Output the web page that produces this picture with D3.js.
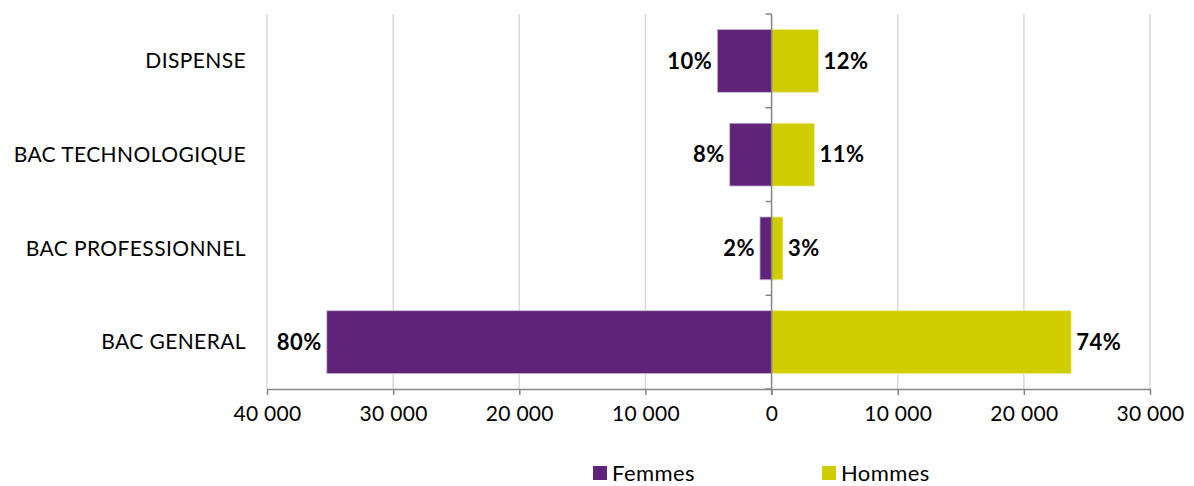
<!DOCTYPE html>
<html>
<head>
<meta charset="utf-8">
<script src="https://cdn.jsdelivr.net/npm/d3@7"></script>
<style>
  body { margin: 0; background: #fff; }
  svg text { font-family: Lato, "Noto Sans", sans-serif; fill: #000; }
</style>
</head>
<body>
<svg id="chart"></svg>
<script>
var categories = ["DISPENSE", "BAC TECHNOLOGIQUE", "BAC PROFESSIONNEL", "BAC GENERAL"];
var femmes = [4300, 3320, 920, 35260];
var hommes = [3720, 3400, 900, 23750];
var femmesPct = ["10%", "8%", "2%", "80%"];
var hommesPct = ["12%", "11%", "3%", "74%"];
var xTicks = [-40000, -30000, -20000, -10000, 0, 10000, 20000, 30000];
var series = ["Femmes", "Hommes"];
var colors = { Femmes: "#5f2479", Hommes: "#cfcc00" };

var width = 1194, height = 486;
var margins = { top: 14, bottom: 97, left: 267, right: 44 };

var svg = d3.select("#chart").attr("width", width).attr("height", height);

var xScale = d3.scaleLinear()
  .domain([-40000, 30000])
  .range([margins.left, width - margins.right]);

var yScale = d3.scaleBand()
  .domain(categories)
  .range([margins.top, height - margins.bottom])
  .paddingInner(0.33)
  .paddingOuter(0.165);

var plotTop = margins.top, plotBottom = height - margins.bottom;

// grid lines
svg.append("g").selectAll("line")
  .data(xTicks.filter(function(d){ return d !== 0; }))
  .enter().append("line")
  .attr("x1", function(d){ return xScale(d); })
  .attr("x2", function(d){ return xScale(d); })
  .attr("y1", plotTop).attr("y2", plotBottom)
  .attr("stroke", "#d9d9d9").attr("stroke-width", 1.5);

// bars
var rows = categories.map(function(c, i){
  return { cat: c, f: femmes[i], h: hommes[i], fp: femmesPct[i], hp: hommesPct[i] };
});

svg.append("g").selectAll("rect")
  .data(rows).enter().append("rect")
  .attr("x", function(d){ return xScale(-d.f); })
  .attr("width", function(d){ return xScale(0) - xScale(-d.f); })
  .attr("y", function(d){ return yScale(d.cat); })
  .attr("height", yScale.bandwidth())
  .attr("fill", colors.Femmes)
  .attr("stroke", "#c9b8d3").attr("stroke-width", 0.8);

svg.append("g").selectAll("rect")
  .data(rows).enter().append("rect")
  .attr("x", xScale(0))
  .attr("width", function(d){ return xScale(d.h) - xScale(0); })
  .attr("y", function(d){ return yScale(d.cat); })
  .attr("height", yScale.bandwidth())
  .attr("fill", colors.Hommes)
  .attr("stroke", "#eeed9c").attr("stroke-width", 0.8);

// data labels
svg.append("g").selectAll("text")
  .data(rows).enter().append("text")
  .attr("x", function(d){ return xScale(-d.f) - 5; })
  .attr("y", function(d){ return yScale(d.cat) + yScale.bandwidth() / 2; })
  .attr("dy", "0.35em")
  .attr("text-anchor", "end")
  .style("font-size", "22px").style("font-weight", "bold").style("letter-spacing", "0.5px")
  .text(function(d){ return d.fp; });

svg.append("g").selectAll("text")
  .data(rows).enter().append("text")
  .attr("x", function(d){ return xScale(d.h) + 5; })
  .attr("y", function(d){ return yScale(d.cat) + yScale.bandwidth() / 2; })
  .attr("dy", "0.35em")
  .attr("text-anchor", "start")
  .style("font-size", "22px").style("font-weight", "bold").style("letter-spacing", "0.5px")
  .text(function(d){ return d.hp; });

// bottom axis
var fmt = function(d){ return d3.format(",")(Math.abs(d)).replace(/,/g, " "); };
var xAxis = d3.axisBottom(xScale).tickValues(xTicks).tickSize(6).tickSizeOuter(0).tickPadding(11).tickFormat(fmt);
var gx = svg.append("g").attr("transform", "translate(0," + plotBottom + ")").call(xAxis);
gx.select(".domain").attr("stroke", "#868686").attr("stroke-width", 1.5);
gx.selectAll(".tick line").attr("stroke", "#868686").attr("stroke-width", 1.5);
gx.selectAll(".tick text").style("font-size", "21px").style("letter-spacing", "0.3px")
  .style("font-family", "Lato, 'Noto Sans', sans-serif").attr("fill", "#000");

// zero axis with band ticks
var boundaries = [plotTop].concat(categories.map(function(c){ return yScale(c) + yScale.bandwidth() + yScale.step() * yScale.paddingInner() / 2; }));
boundaries = boundaries.slice(0, categories.length).concat([plotBottom]);
var z = svg.append("g");
z.append("line")
  .attr("x1", xScale(0)).attr("x2", xScale(0))
  .attr("y1", plotTop).attr("y2", plotBottom + 6)
  .attr("stroke", "#868686").attr("stroke-width", 1.5);
z.selectAll(".bt").data(boundaries).enter().append("line")
  .attr("x1", xScale(0) - 6).attr("x2", xScale(0))
  .attr("y1", function(d){ return d; }).attr("y2", function(d){ return d; })
  .attr("stroke", "#868686").attr("stroke-width", 1.5);

// category labels
svg.append("g").selectAll("text")
  .data(categories).enter().append("text")
  .attr("x", 246)
  .attr("y", function(d){ return yScale(d) + yScale.bandwidth() / 2; })
  .attr("dy", "0.35em")
  .attr("text-anchor", "end")
  .style("font-size", "21px").style("letter-spacing", "0.4px")
  .text(function(d){ return d; });

// legend
var legendX = { Femmes: 593, Hommes: 822 };
var lg = svg.append("g").selectAll("g").data(series).enter().append("g")
  .attr("transform", function(d){ return "translate(" + legendX[d] + ",466)"; });
lg.append("rect").attr("width", 14).attr("height", 14).attr("fill", function(d){ return colors[d]; });
lg.append("text").attr("x", 19).attr("y", 7).attr("dy", "0.35em")
  .style("font-size", "22px").style("letter-spacing", "0.4px").text(function(d){ return d; });
</script>
</body>
</html>
